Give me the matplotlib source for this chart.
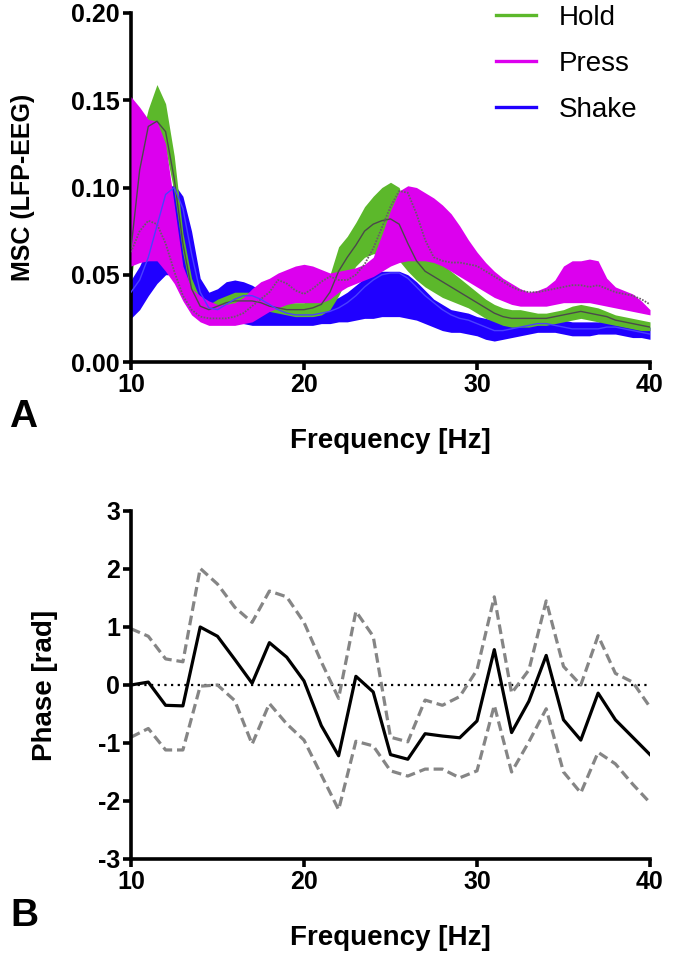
import numpy as np
import matplotlib
matplotlib.use("Agg")
import matplotlib.pyplot as plt
from matplotlib.lines import Line2D

plt.rcParams['font.family'] = ['Liberation Sans', 'DejaVu Sans']
plt.rcParams['axes.unicode_minus'] = False
plt.rcParams['lines.scale_dashes'] = False

# ---- panel A: coherence, mean +/- band, 0.5 Hz grid from 10 to 40 Hz ----
freq_a = np.arange(10, 40.01, 0.5)

hold_hi = [0.100, 0.125, 0.145, 0.159, 0.148, 0.118, 0.074, 0.048, 0.036, 0.033,
           0.036, 0.038, 0.040, 0.040, 0.040, 0.038, 0.036, 0.035, 0.034, 0.034,
           0.034, 0.036, 0.040, 0.050, 0.066, 0.072, 0.080, 0.089, 0.095, 0.100,
           0.103, 0.100, 0.085, 0.070, 0.060, 0.058, 0.056, 0.052, 0.048, 0.044,
           0.040, 0.036, 0.033, 0.031, 0.030, 0.030, 0.029, 0.028, 0.028, 0.029,
           0.030, 0.032, 0.033, 0.032, 0.031, 0.029, 0.027, 0.026, 0.025, 0.024, 0.023]
hold_lo = [0.045, 0.085, 0.110, 0.120, 0.122, 0.097, 0.062, 0.038, 0.029, 0.027,
           0.029, 0.030, 0.030, 0.030, 0.030, 0.030, 0.029, 0.028, 0.027, 0.026,
           0.026, 0.026, 0.027, 0.030, 0.038, 0.048, 0.055, 0.060, 0.062, 0.062,
           0.062, 0.058, 0.052, 0.047, 0.043, 0.040, 0.037, 0.035, 0.033, 0.031,
           0.028, 0.025, 0.023, 0.021, 0.020, 0.020, 0.020, 0.021, 0.021, 0.022,
           0.023, 0.024, 0.025, 0.024, 0.023, 0.022, 0.021, 0.020, 0.019, 0.018, 0.018]
hold_mean = [0.065, 0.110, 0.135, 0.138, 0.132, 0.105, 0.068, 0.042, 0.032, 0.030,
             0.032, 0.034, 0.035, 0.035, 0.035, 0.034, 0.032, 0.031, 0.030, 0.030,
             0.030, 0.031, 0.033, 0.040, 0.052, 0.060, 0.067, 0.075, 0.079, 0.081,
             0.082, 0.079, 0.068, 0.058, 0.052, 0.049, 0.046, 0.043, 0.040, 0.037,
             0.034, 0.031, 0.028, 0.026, 0.025, 0.025, 0.025, 0.025, 0.025, 0.026,
             0.027, 0.028, 0.029, 0.028, 0.027, 0.026, 0.024, 0.023, 0.022, 0.021, 0.020]

press_hi = [0.152, 0.146, 0.139, 0.138, 0.125, 0.090, 0.055, 0.042, 0.038, 0.035,
            0.033, 0.033, 0.034, 0.037, 0.042, 0.046, 0.048, 0.051, 0.053, 0.055,
            0.056, 0.055, 0.053, 0.051, 0.052, 0.053, 0.054, 0.056, 0.060, 0.073,
            0.087, 0.098, 0.101, 0.100, 0.097, 0.094, 0.090, 0.085, 0.078, 0.070,
            0.063, 0.057, 0.052, 0.048, 0.045, 0.042, 0.040, 0.041, 0.043, 0.047,
            0.055, 0.058, 0.058, 0.059, 0.058, 0.048, 0.043, 0.041, 0.039, 0.035, 0.030]
press_lo = [0.055, 0.057, 0.058, 0.058, 0.052, 0.045, 0.035, 0.027, 0.023, 0.021,
            0.021, 0.021, 0.021, 0.022, 0.023, 0.026, 0.029, 0.031, 0.033, 0.034,
            0.034, 0.034, 0.034, 0.036, 0.040, 0.043, 0.045, 0.047, 0.049, 0.052,
            0.055, 0.057, 0.058, 0.058, 0.058, 0.057, 0.055, 0.052, 0.049, 0.046,
            0.043, 0.040, 0.037, 0.035, 0.033, 0.032, 0.032, 0.032, 0.032, 0.033,
            0.034, 0.034, 0.034, 0.034, 0.033, 0.032, 0.031, 0.030, 0.029, 0.028, 0.027]
press_mean = [0.063, 0.075, 0.081, 0.079, 0.068, 0.052, 0.038, 0.030, 0.026, 0.025,
              0.025, 0.025, 0.026, 0.028, 0.032, 0.036, 0.040, 0.047, 0.045, 0.041,
              0.039, 0.042, 0.046, 0.049, 0.047, 0.047, 0.050, 0.056, 0.065, 0.077,
              0.089, 0.098, 0.097, 0.085, 0.070, 0.060, 0.058, 0.057, 0.057, 0.056,
              0.055, 0.052, 0.049, 0.046, 0.043, 0.041, 0.040, 0.040, 0.041, 0.042,
              0.043, 0.044, 0.044, 0.043, 0.044, 0.042, 0.040, 0.039, 0.038, 0.036, 0.033]

shake_hi = [0.047, 0.055, 0.066, 0.085, 0.098, 0.102, 0.095, 0.075, 0.048, 0.040,
            0.042, 0.046, 0.047, 0.046, 0.044, 0.041, 0.038, 0.035, 0.034, 0.033,
            0.033, 0.033, 0.034, 0.035, 0.037, 0.040, 0.044, 0.048, 0.051, 0.052,
            0.052, 0.052, 0.050, 0.046, 0.041, 0.036, 0.033, 0.030, 0.029, 0.028,
            0.026, 0.025, 0.024, 0.023, 0.024, 0.025, 0.026, 0.027, 0.026, 0.025,
            0.024, 0.023, 0.023, 0.023, 0.023, 0.024, 0.024, 0.023, 0.022, 0.021, 0.020]
shake_lo = [0.025, 0.030, 0.038, 0.045, 0.050, 0.050, 0.048, 0.040, 0.030, 0.025,
            0.023, 0.023, 0.023, 0.022, 0.021, 0.021, 0.021, 0.021, 0.021, 0.021,
            0.021, 0.021, 0.022, 0.022, 0.023, 0.023, 0.024, 0.025, 0.025, 0.026,
            0.026, 0.026, 0.025, 0.024, 0.022, 0.020, 0.018, 0.017, 0.017, 0.016,
            0.015, 0.013, 0.012, 0.013, 0.014, 0.015, 0.016, 0.017, 0.017, 0.017,
            0.016, 0.015, 0.015, 0.015, 0.016, 0.016, 0.016, 0.015, 0.014, 0.014, 0.013]
shake_mean = [0.040, 0.047, 0.060, 0.078, 0.096, 0.100, 0.088, 0.062, 0.040, 0.031,
              0.030, 0.033, 0.036, 0.038, 0.038, 0.036, 0.033, 0.030, 0.028, 0.027,
              0.027, 0.027, 0.028, 0.029, 0.031, 0.034, 0.038, 0.043, 0.047, 0.050,
              0.051, 0.051, 0.048, 0.043, 0.038, 0.034, 0.030, 0.027, 0.025, 0.024,
              0.022, 0.020, 0.018, 0.018, 0.019, 0.020, 0.021, 0.022, 0.022, 0.021,
              0.020, 0.019, 0.019, 0.019, 0.019, 0.020, 0.020, 0.019, 0.018, 0.017, 0.016]

# ---- panel B: phase at 1 Hz steps ----
freq_b = np.arange(10, 41)
phase_mean = [0.0, 0.05, -0.35, -0.36, 1.0, 0.84, 0.44, 0.03, 0.73, 0.48, 0.07,
              -0.70, -1.22, 0.15, -0.12, -1.20, -1.28, -0.84, -0.88, -0.91, -0.62,
              0.61, -0.82, -0.28, 0.51, -0.60, -0.95, -0.14, -0.60, -0.90, -1.20]
phase_upper = [0.97, 0.84, 0.45, 0.40, 2.01, 1.74, 1.34, 1.08, 1.62, 1.52, 1.08,
               0.40, -0.23, 1.27, 0.84, -0.90, -0.98, -0.26, -0.35, -0.20, 0.26,
               1.52, -0.14, 0.26, 1.45, 0.32, 0.0, 0.85, 0.20, 0.05, -0.38]
phase_lower = [-0.90, -0.75, -1.12, -1.12, -0.02, 0.0, -0.27, -1.02, -0.32, -0.67, -0.95,
               -1.55, -2.15, -0.97, -1.05, -1.48, -1.57, -1.45, -1.45, -1.60, -1.48,
               -0.35, -1.50, -0.98, -0.41, -1.50, -1.86, -1.16, -1.36, -1.71, -2.03]

GREEN = '#5cb82b'
MAGENTA = '#dc00ee'
BLUE = '#2000ff'

W, H = 673, 957
fig = plt.figure(figsize=(W / 100, H / 100), dpi=100)
axA = fig.add_axes([131 / W, 1 - 362 / H, 519 / W, 349 / H])
axB = fig.add_axes([131 / W, 1 - 859 / H, 519 / W, 348 / H])


def style_axes(ax):
    for s in ['top', 'right']:
        ax.spines[s].set_visible(False)
    for s in ['left', 'bottom']:
        ax.spines[s].set_linewidth(2.6)
        ax.spines[s].set_capstyle('projecting')
    ax.tick_params(width=2.6, length=6, direction='out', labelsize=18, pad=2)
    for lab in ax.get_xticklabels() + ax.get_yticklabels():
        lab.set_fontweight('bold')


# panel A
axA.fill_between(freq_a, shake_lo, shake_hi, color=BLUE, lw=0, zorder=1)
axA.fill_between(freq_a, hold_lo, hold_hi, color=GREEN, lw=0, zorder=2)
axA.fill_between(freq_a, press_lo, press_hi, color=MAGENTA, lw=0, zorder=3)
axA.plot(freq_a, hold_mean, color='#4a4a4a', lw=1.0, zorder=4)
axA.plot(freq_a, press_mean, color='#6a5a6a', lw=1.3, ls=(0, (1.2, 1.0)), zorder=4)
axA.plot(freq_a, shake_mean, color='#4a40ff', lw=1.0, zorder=4)
axA.set_xlim(10, 40)
axA.set_ylim(0, 0.20)
axA.set_xticks([10, 20, 30, 40])
axA.set_yticks([0, 0.05, 0.10, 0.15, 0.20])
axA.set_yticklabels(['0.00', '0.05', '0.10', '0.15', '0.20'])
style_axes(axA)
axA.set_ylabel('MSC (LFP-EEG)', fontsize=18, fontweight='bold')
axA.yaxis.set_label_coords(-0.185, 0.5)
axA.set_xlabel('Frequency [Hz]', fontsize=20, fontweight='bold')
axA.xaxis.set_label_coords(0.5, -0.19)

handles = [Line2D([], [], color=c, lw=2.4) for c in (GREEN, MAGENTA, BLUE)]
fig.legend(handles, ['Hold', 'Press', 'Shake'], loc='upper left',
           bbox_to_anchor=(496 / W, 1 - 5 / H), frameon=False, fontsize=20,
           handlelength=1.45, handletextpad=0.8, labelspacing=0.72,
           borderpad=0, borderaxespad=0)

# panel B
axB.plot([10, 40], [0, 0], color='black', lw=1.6, ls=(0, (1.6, 3.2)), zorder=1)
axB.plot(freq_b, phase_upper, color='#858585', lw=2.3, ls=(0, (7, 3.5)), zorder=2)
axB.plot(freq_b, phase_lower, color='#858585', lw=2.3, ls=(0, (7, 3.5)), zorder=2)
axB.plot(freq_b, phase_mean, color='black', lw=2.3, zorder=3)
axB.set_xlim(10, 40)
axB.set_ylim(-3, 3)
axB.set_xticks([10, 20, 30, 40])
axB.set_yticks([-3, -2, -1, 0, 1, 2, 3])
style_axes(axB)
axB.set_ylabel('Phase [rad]', fontsize=20, fontweight='bold')
axB.yaxis.set_label_coords(-0.14, 0.5)
axB.set_xlabel('Frequency [Hz]', fontsize=20, fontweight='bold')
axB.xaxis.set_label_coords(0.5, -0.19)

fig.text(23 / W, 1 - 417 / H, 'A', fontsize=28, fontweight='bold', ha='center', va='center')
fig.text(24 / W, 1 - 916 / H, 'B', fontsize=28, fontweight='bold', ha='center', va='center')

fig.savefig('out.png', dpi=100)
